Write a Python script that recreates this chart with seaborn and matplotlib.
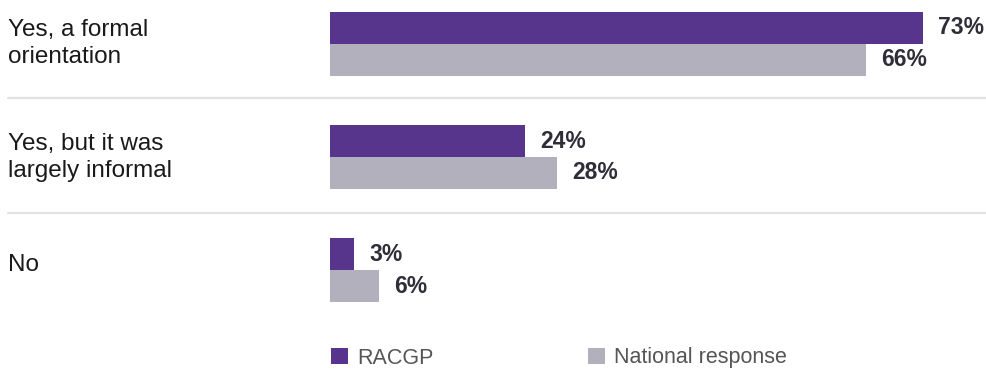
import numpy as np
import pandas as pd
import matplotlib.pyplot as plt
import matplotlib.transforms as mtransforms
from matplotlib.patches import Patch
import seaborn as sns


categories = ['Yes, a formal\norientation', 'Yes, but it was\nlargely informal', 'No']
groups = ['RACGP', 'National response']
racgp = [73, 24, 3]
national = [66, 28, 6]
colors = ['#58358c', '#b1b0bc']

df = pd.DataFrame({
    'response': categories * 2,
    'group': [groups[0]] * 3 + [groups[1]] * 3,
    'pct': racgp + national,
})

sns.set_style('white')
plt.rcParams['font.family'] = ['Liberation Sans', 'DejaVu Sans']

fig = plt.figure(figsize=(9.87, 3.76), dpi=100)
ax = fig.add_axes([330/987, 1-320/376, 1-330/987, 320/376])

sns.barplot(data=df, x='pct', y='response', hue='group', orient='h',
            palette=colors, saturation=1, width=0.566, gap=0,
            linewidth=0, legend=False, ax=ax)

ax.set_xlim(0, 657/8.12)
ax.set_ylim(2.442, -0.389)
ax.set_xlabel('')
ax.set_ylabel('')
ax.set_xticks([])
ax.set_yticks([])
sns.despine(ax=ax, left=True, bottom=True)

# value labels
for c in ax.containers:
    ax.bar_label(c, fmt='{:.0f}%', padding=11, fontsize=16.5,
                 fontweight='bold', color='#2e2d38')

# category labels + separators, x in figure coords
trans = mtransforms.blended_transform_factory(fig.transFigure, ax.transData)
label_off = [-0.22, -0.21, -0.14]
for i, cat in enumerate(categories):
    ax.text(8/987, i + label_off[i], cat, transform=trans, ha='left', va='top',
            fontsize=17.5, color='#1a1a1a', linespacing=1.3)
for k in [0.475, 1.495]:
    ax.plot([8/987, 1.0], [k, k], transform=trans, color='#e2e2e2',
            lw=1.6, clip_on=False)

handles = [Patch(facecolor=col, edgecolor='none') for col in colors]
leg = fig.legend(handles, groups, loc='center left',
                 bbox_to_anchor=(331/987, 1-358/376), ncol=2, frameon=False,
                 fontsize=15.5, handlelength=0.78, handleheight=0.78,
                 handletextpad=0.45, columnspacing=7.15, borderpad=0,
                 borderaxespad=0)
for t in leg.get_texts():
    t.set_color('#555555')

plt.savefig('out.png', dpi=100)
